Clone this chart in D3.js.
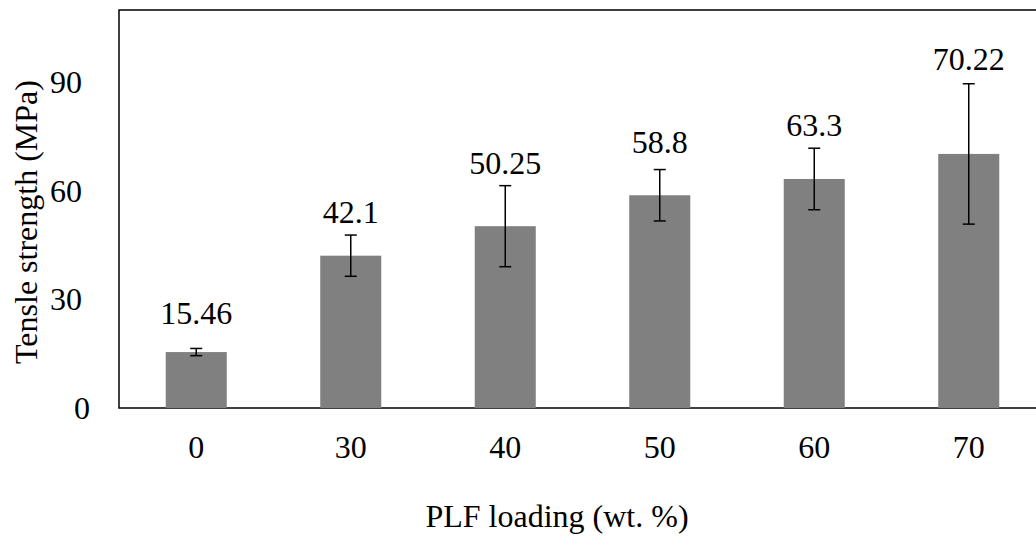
<!DOCTYPE html>
<html lang="en">
<head>
  <meta charset="UTF-8">
  <title>Tensile strength vs PLF loading</title>
  <script src="https://d3js.org/d3.v7.min.js"></script>
  <style>
    body { margin: 0; overflow: hidden; background: #fff; }
    svg { display: block; }
    svg text { font-family: "Liberation Serif", Tinos, "Times New Roman", Times, "DejaVu Serif", serif !important; fill: #000; }
  </style>
</head>
<body>
  <svg id="chart"></svg>
  <script>
    // data
    const loadings = ["0", "30", "40", "50", "60", "70"];
    const strength = [15.46, 42.1, 50.25, 58.8, 63.3, 70.22];
    const errors = [1.0, 5.7, 11.2, 7.1, 8.5, 19.4];
    const yTicks = [0, 30, 60, 90];
    // extra lift of each value label above its error bar (px)
    const labelLift = [24, 12, 12, 17, 12, 14];

    const width = 1036;
    const height = 538;
    const margin = { top: 10, right: -10, bottom: 130, left: 119 };
    const serif = "'Liberation Serif', Tinos, 'Times New Roman', Times, 'DejaVu Serif', serif";

    const svg = d3.select("#chart")
      .attr("width", width)
      .attr("height", height)
      .attr("font-family", serif);

    const x = d3.scaleBand()
      .domain(loadings)
      .range([margin.left, width - margin.right])
      .paddingInner(0.605)
      .paddingOuter(0.3025);

    const y = d3.scaleLinear()
      .domain([0, 110])
      .range([height - margin.bottom, margin.top]);

    // plot frame
    svg.append("rect")
      .attr("x", margin.left)
      .attr("y", margin.top)
      .attr("width", width - margin.right - margin.left)
      .attr("height", y(0) - margin.top)
      .attr("fill", "none")
      .attr("stroke", "#000")
      .attr("stroke-width", 1.5);

    // bars
    svg.selectAll(".bar")
      .data(strength)
      .enter()
      .append("rect")
      .attr("class", "bar")
      .attr("x", (d, i) => x(loadings[i]))
      .attr("y", d => y(d))
      .attr("width", x.bandwidth())
      .attr("height", d => y(0) - y(d))
      .attr("fill", "#808080");

    // error bars
    const cx = i => x(loadings[i]) + x.bandwidth() / 2;
    const err = svg.append("g")
      .attr("stroke", "#000")
      .attr("stroke-width", 1.5);
    strength.forEach((d, i) => {
      const top = y(d + errors[i]);
      const bot = y(d - errors[i]);
      err.append("line").attr("x1", cx(i)).attr("x2", cx(i)).attr("y1", top).attr("y2", bot);
      err.append("line").attr("x1", cx(i) - 6).attr("x2", cx(i) + 6).attr("y1", top).attr("y2", top);
      err.append("line").attr("x1", cx(i) - 6).attr("x2", cx(i) + 6).attr("y1", bot).attr("y2", bot);
    });

    // value labels
    svg.selectAll(".val")
      .data(strength)
      .enter()
      .append("text")
      .attr("class", "val")
      .attr("x", (d, i) => cx(i))
      .attr("y", (d, i) => y(d + errors[i]) - labelLift[i])
      .attr("text-anchor", "middle")
      .attr("font-size", 32)
      .text(d => d);

    // y axis labels
    const yAxis = svg.append("g")
      .attr("transform", `translate(${margin.left},0)`)
      .call(d3.axisLeft(y).tickValues(yTicks).tickSize(0).tickPadding(37));
    yAxis.attr("font-family", serif).attr("font-size", 32);
    yAxis.select(".domain").remove();
    yAxis.selectAll("text").attr("fill", "#000")
      .attr("dx", d => d === 0 ? 8 : 0);

    // x axis labels
    const xAxis = svg.append("g")
      .attr("transform", `translate(0,${y(0)})`)
      .call(d3.axisBottom(x).tickSize(0).tickPadding(27));
    xAxis.attr("font-family", serif).attr("font-size", 32);
    xAxis.select(".domain").remove();
    xAxis.selectAll("text").attr("fill", "#000");

    // axis titles
    svg.append("text")
      .attr("x", 557)
      .attr("y", 527)
      .attr("text-anchor", "middle")
      .attr("font-size", 32)
      .text("PLF loading (wt. %)");

    svg.append("text")
      .attr("transform", `translate(37,${(margin.top + y(0)) / 2 + 13}) rotate(-90)`)
      .attr("text-anchor", "middle")
      .attr("font-size", 32)
      .text("Tensle strength (MPa)");
  </script>
</body>
</html>
